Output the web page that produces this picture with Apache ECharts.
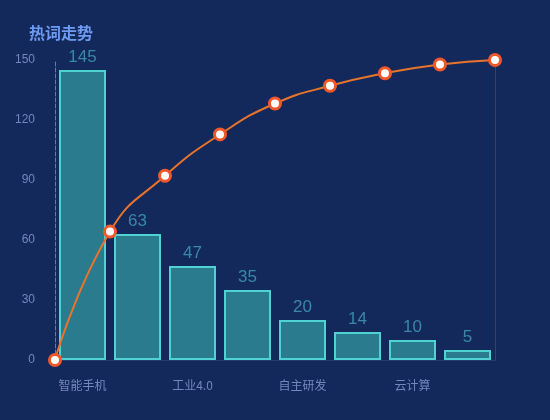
<!DOCTYPE html>
<html>
<head>
<meta charset="utf-8">
<script src="https://cdn.jsdelivr.net/npm/echarts@6/dist/echarts.min.js"></script>
<style>
html, body { margin: 0; padding: 0; background: #14295b; }
#chart { width: 550px; height: 420px; }
</style>
</head>
<body>
<div id="chart"></div>
<script>
// hot word counts
var categories = ['智能手机', '人工智能', '工业4.0', '物联网', '自主研发', '大数据', '云计算', '区块链'];
var counts = [145, 63, 47, 35, 20, 14, 10, 5];
// cumulative share (%), starts at 0
var linePoints = ['', '1', '2', '3', '4', '5', '6', '7', '8'];
var cumulative = [0, 42.8, 61.4, 75.2, 85.5, 91.4, 95.6, 98.5, 100];

var myChart = echarts.init(document.getElementById('chart'));

var option = {
    backgroundColor: '#14295b',
    title: {
        text: '热词走势',
        left: 24,
        top: 20,
        textStyle: { color: '#6e9af2', fontSize: 16, fontWeight: 'bold', fontFamily: 'Noto Sans CJK SC' }
    },
    grid: { left: 55, right: 55, top: 60, bottom: 60 },
    xAxis: [
        {
            type: 'category',
            data: categories,
            axisLine: { lineStyle: { color: '#263b70' } },
            axisTick: { show: false },
            axisLabel: { interval: 1, color: '#7585bd', fontSize: 12, margin: 19, fontFamily: 'Noto Sans CJK SC' }
        },
        {
            type: 'category',
            data: linePoints,
            boundaryGap: false,
            show: false
        }
    ],
    yAxis: [
        {
            type: 'value',
            min: 0,
            max: 150,
            interval: 30,
            axisLine: { show: true, lineStyle: { color: '#8a9bd0', type: 'dashed', opacity: 0.7 } },
            axisTick: { show: false },
            splitLine: { show: false },
            axisLabel: { color: '#7585bd', fontSize: 12, margin: 20 }
        },
        {
            type: 'value',
            min: 0,
            max: 100,
            axisLine: { show: true, lineStyle: { color: '#3a4258' } },
            axisTick: { show: false },
            axisLabel: { show: false },
            splitLine: { show: false }
        }
    ],
    series: [
        {
            type: 'bar',
            data: counts,
            barWidth: 47,
            itemStyle: { color: '#2a7b8e', borderColor: '#4fd2d2', borderWidth: 2 },
            label: { show: true, position: 'top', color: '#3a87a9', fontSize: 17, distance: 4 }
        },
        {
            type: 'line',
            xAxisIndex: 1,
            yAxisIndex: 1,
            data: cumulative,
            smooth: true,
            symbol: 'circle',
            symbolSize: 11,
            lineStyle: { color: '#e8742c', width: 2 },
            itemStyle: { color: '#ffffff', borderColor: '#f0582a', borderWidth: 3 },
            z: 5
        }
    ]
};

myChart.setOption(option);
</script>
</body>
</html>
